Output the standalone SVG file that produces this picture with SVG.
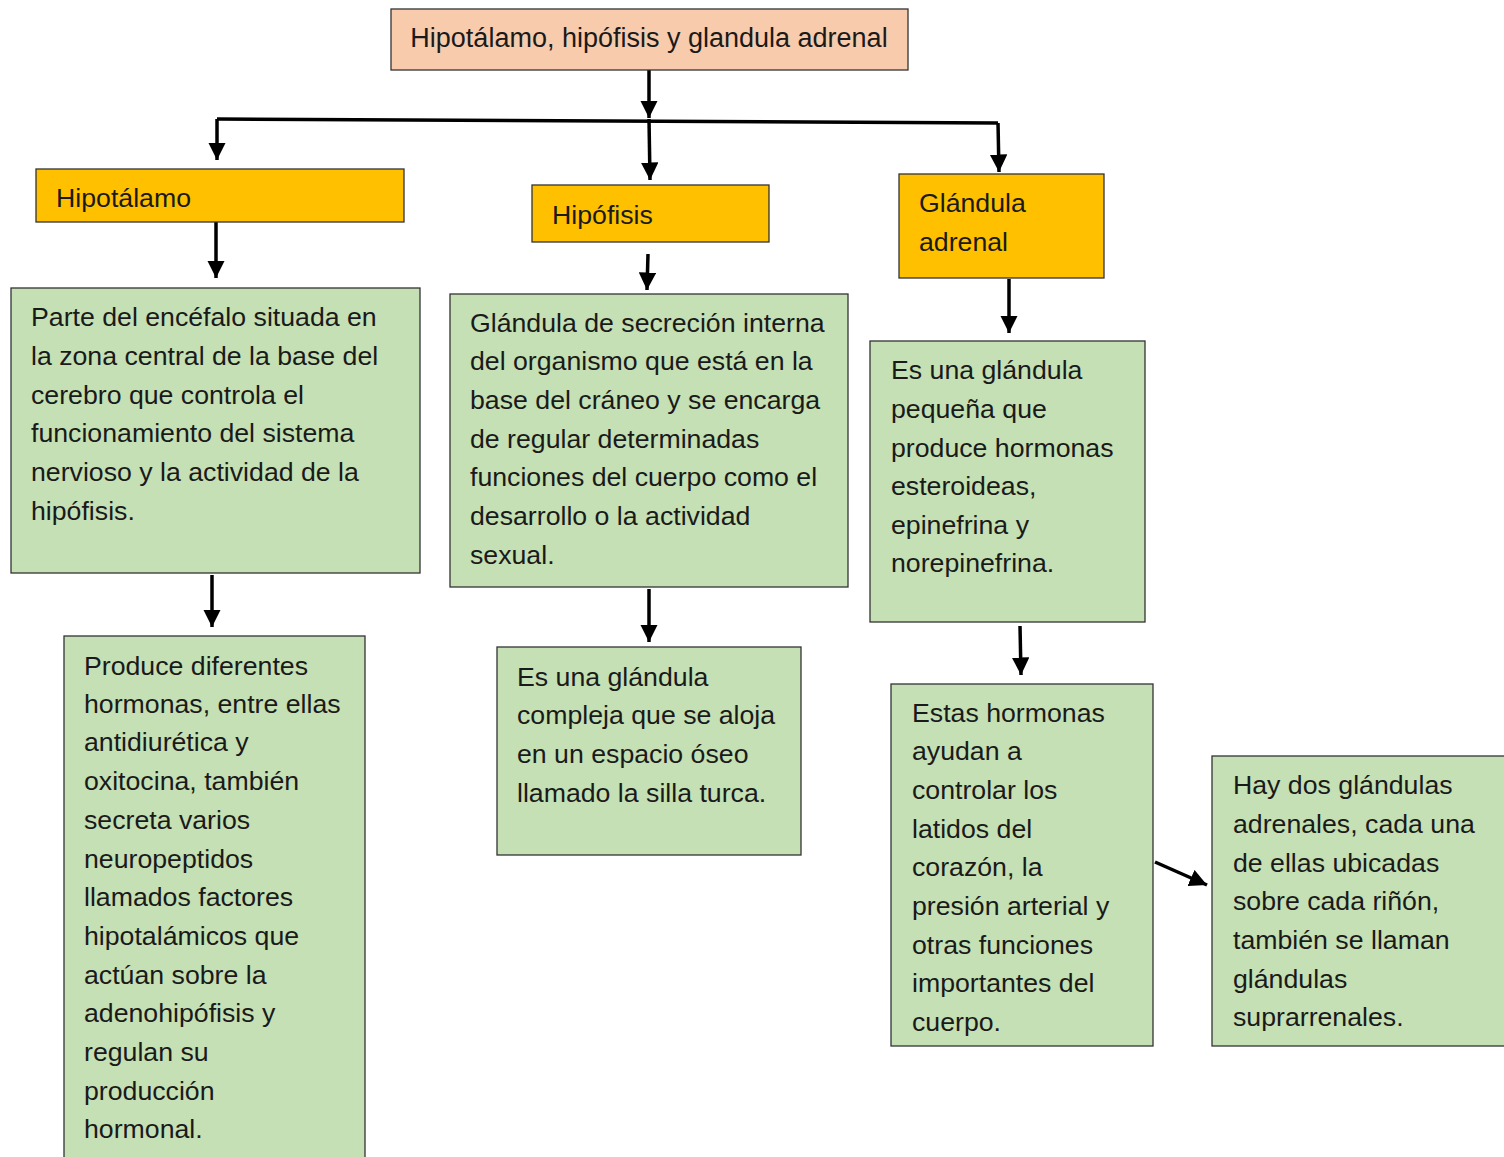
<svg xmlns="http://www.w3.org/2000/svg" width="1504" height="1157" viewBox="0 0 1504 1157">
<defs>
<marker id="ah" viewBox="0 0 10 10" refX="10" refY="5" markerWidth="5" markerHeight="5" markerUnits="strokeWidth" orient="auto">
<path d="M0,0 L10,5 L0,10 z" fill="#000"/>
</marker>
</defs>
<style>
text{font-family:"Liberation Sans",Arial,sans-serif;font-size:26.7px;fill:#1a1a1a}
.title{font-size:27px}
.top{fill:#F8CBAD;stroke:#333;stroke-width:1.3}
.yel{fill:#FFC000;stroke:#333;stroke-width:1.3}
.grn{fill:#C5E0B4;stroke:#333;stroke-width:1.3}
.c{fill:none;stroke:#000;stroke-width:3.5}
.ca{fill:none;stroke:#000;stroke-width:3.5;marker-end:url(#ah)}
</style>
<rect width="1504" height="1157" fill="#fff"/>
<g id="connectors">
<path class="ca" d="M649,70 L649,118"/>
<path class="c" d="M217,119 L998,123"/>
<path class="ca" d="M217,119 L217,160"/>
<path class="ca" d="M649,119 L650,180"/>
<path class="ca" d="M998,123 L999,172"/>
<path class="ca" d="M216,222 L216,278"/>
<path class="ca" d="M212,575 L212,627"/>
<path class="ca" d="M648,254 L647,290"/>
<path class="ca" d="M649,589 L649,642"/>
<path class="ca" d="M1009,279 L1009,333"/>
<path class="ca" d="M1020,626 L1021,675"/>
<path class="ca" d="M1155,862 L1207,885"/>
</g>
<g id="n-root">
<rect class="top" x="391" y="9" width="517" height="61"/>
<text class="title" x="649" y="47" text-anchor="middle">Hipotálamo, hipófisis y glandula adrenal</text>
</g>
<g id="n-hipotalamo">
<rect class="yel" x="36" y="169" width="368" height="53"/>
<text x="56" y="207">Hipotálamo</text>
</g>
<g id="n-hipofisis">
<rect class="yel" x="532" y="185" width="237" height="57"/>
<text x="552" y="224">Hipófisis</text>
</g>
<g id="n-adrenal">
<rect class="yel" x="899" y="174" width="205" height="104"/>
<text x="919" y="212">Glándula</text>
<text x="919" y="251">adrenal</text>
</g>
<g id="n-hipotalamo-def">
<rect class="grn" x="11" y="288" width="409" height="285"/>
<text x="31" y="326">Parte del encéfalo situada en</text>
<text x="31" y="365">la zona central de la base del</text>
<text x="31" y="404">cerebro que controla el</text>
<text x="31" y="442">funcionamiento del sistema</text>
<text x="31" y="481">nervioso y la actividad de la</text>
<text x="31" y="520">hipófisis.</text>
</g>
<g id="n-hipotalamo-func">
<rect class="grn" x="64" y="636" width="301" height="530"/>
<text x="84" y="675">Produce diferentes</text>
<text x="84" y="713">hormonas, entre ellas</text>
<text x="84" y="751">antidiurética y</text>
<text x="84" y="790">oxitocina, también</text>
<text x="84" y="829">secreta varios</text>
<text x="84" y="868">neuropeptidos</text>
<text x="84" y="906">llamados factores</text>
<text x="84" y="945">hipotalámicos que</text>
<text x="84" y="984">actúan sobre la</text>
<text x="84" y="1022">adenohipófisis y</text>
<text x="84" y="1061">regulan su</text>
<text x="84" y="1100">producción</text>
<text x="84" y="1138">hormonal.</text>
</g>
<g id="n-hipofisis-def">
<rect class="grn" x="450" y="294" width="398" height="293"/>
<text x="470" y="332">Glándula de secreción interna</text>
<text x="470" y="370">del organismo que está en la</text>
<text x="470" y="409">base del cráneo y se encarga</text>
<text x="470" y="448">de regular determinadas</text>
<text x="470" y="486">funciones del cuerpo como el</text>
<text x="470" y="525">desarrollo o la actividad</text>
<text x="470" y="564">sexual.</text>
</g>
<g id="n-hipofisis-loc">
<rect class="grn" x="497" y="647" width="304" height="208"/>
<text x="517" y="686">Es una glándula</text>
<text x="517" y="724">compleja que se aloja</text>
<text x="517" y="763">en un espacio óseo</text>
<text x="517" y="802">llamado la silla turca.</text>
</g>
<g id="n-adrenal-def">
<rect class="grn" x="870" y="341" width="275" height="281"/>
<text x="891" y="379">Es una glándula</text>
<text x="891" y="418">pequeña que</text>
<text x="891" y="457">produce hormonas</text>
<text x="891" y="495">esteroideas,</text>
<text x="891" y="534">epinefrina y</text>
<text x="891" y="572">norepinefrina.</text>
</g>
<g id="n-adrenal-func">
<rect class="grn" x="891" y="684" width="262" height="362"/>
<text x="912" y="722">Estas hormonas</text>
<text x="912" y="760">ayudan a</text>
<text x="912" y="799">controlar los</text>
<text x="912" y="838">latidos del</text>
<text x="912" y="876">corazón, la</text>
<text x="912" y="915">presión arterial y</text>
<text x="912" y="954">otras funciones</text>
<text x="912" y="992">importantes del</text>
<text x="912" y="1031">cuerpo.</text>
</g>
<g id="n-adrenal-loc">
<rect class="grn" x="1212" y="756" width="300" height="290"/>
<text x="1233" y="794">Hay dos glándulas</text>
<text x="1233" y="833">adrenales, cada una</text>
<text x="1233" y="872">de ellas ubicadas</text>
<text x="1233" y="910">sobre cada riñón,</text>
<text x="1233" y="949">también se llaman</text>
<text x="1233" y="988">glándulas</text>
<text x="1233" y="1026">suprarrenales.</text>
</g>
</svg>
